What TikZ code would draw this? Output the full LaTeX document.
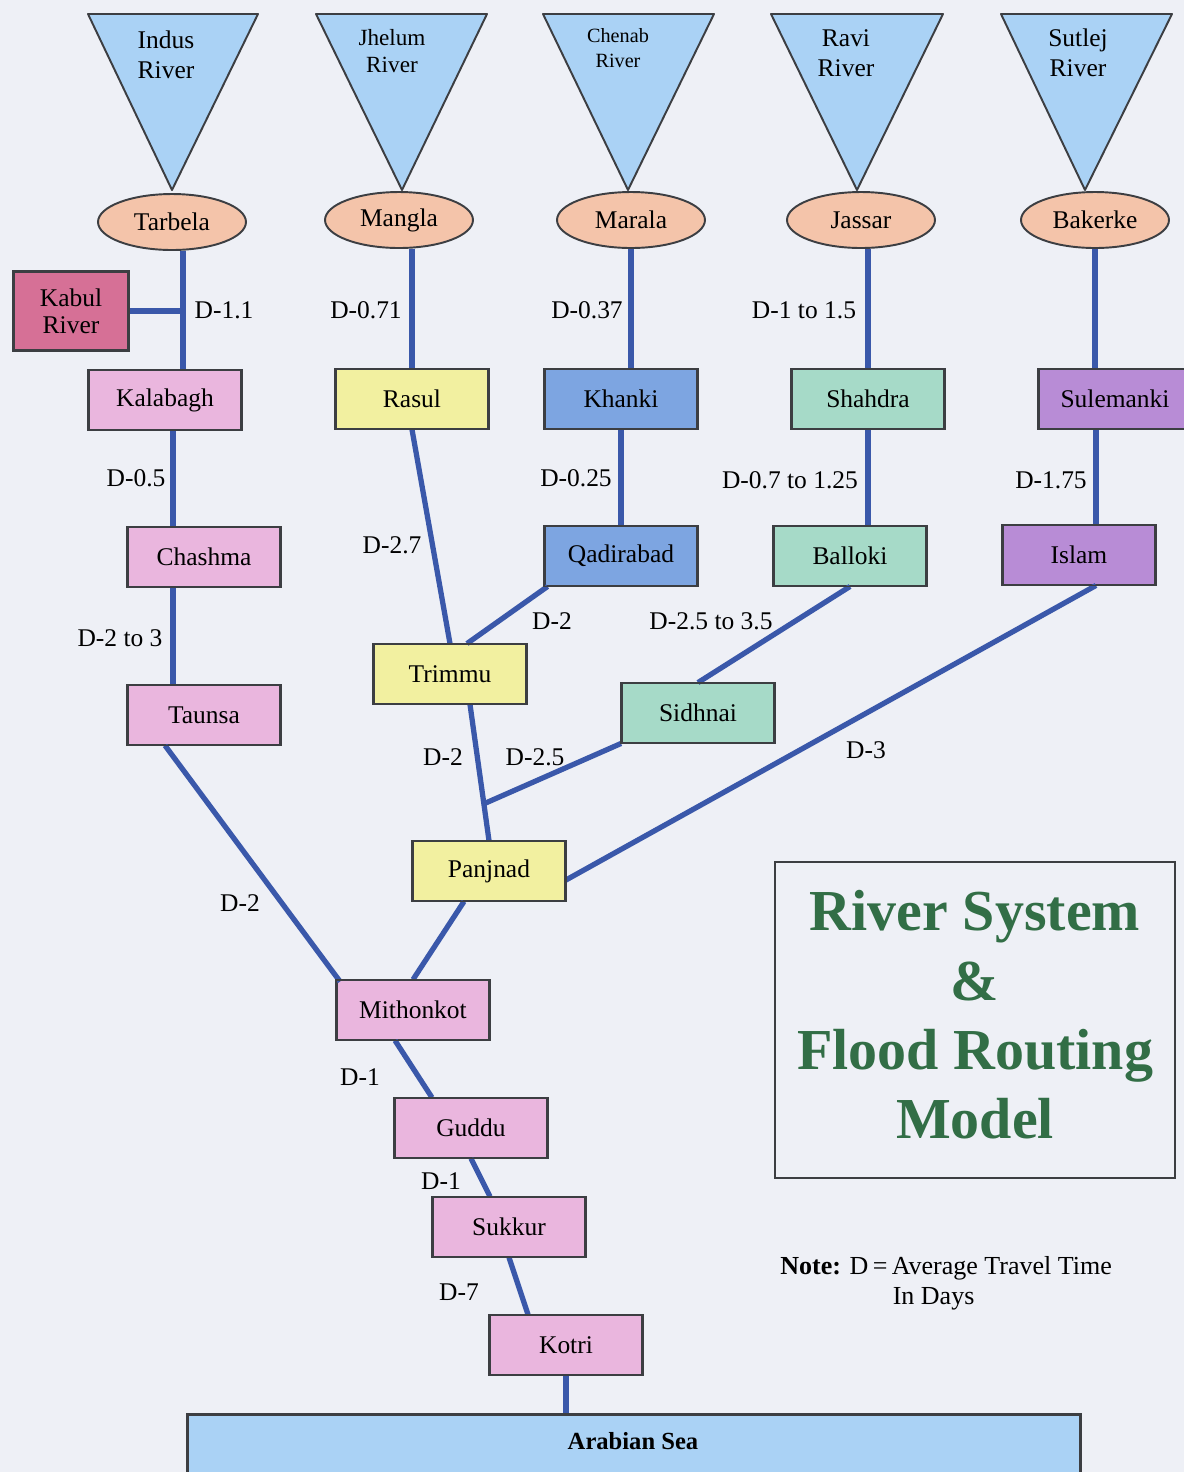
\documentclass[tikz,border=0pt]{standalone}
\usepackage{fontspec}
\setmainfont{Liberation Serif}
\usetikzlibrary{shapes.geometric,calc}
\definecolor{bg}{RGB}{238,240,246}
\definecolor{bord}{RGB}{60,62,66}
\definecolor{skyc}{RGB}{170,210,245}
\definecolor{damc}{RGB}{244,196,170}
\definecolor{kabc}{RGB}{214,112,150}
\definecolor{pinkc}{RGB}{234,182,222}
\definecolor{yelc}{RGB}{242,240,160}
\definecolor{bluec}{RGB}{125,165,225}
\definecolor{tealc}{RGB}{166,218,200}
\definecolor{purc}{RGB}{184,140,214}
\definecolor{riv}{RGB}{58,88,170}
\definecolor{tgreen}{RGB}{50,110,70}
\begin{document}
\begin{tikzpicture}[x=0.02cm,y=-0.02cm,
  txt/.style={font=\fontsize{14.5}{16}\selectfont},
  tri/.style={draw=bord,fill=skyc,line width=1.1pt,line join=round},
  trilab/.style={align=center,inner sep=0,font=\fontsize{14.5}{17}\selectfont},
  dam/.style={ellipse,draw=bord,fill=damc,line width=1.1pt,minimum width=2.96cm,minimum height=1.12cm,inner sep=0,txt},
  stn/.style={draw=bord,line width=1.1pt,minimum width=3.04cm,minimum height=1.18cm,inner sep=0,txt},
  lnk/.style={draw=riv,line width=3pt},
  lab/.style={inner sep=0,txt}]
\useasboundingbox (0,0) rectangle (1184,1472);
\fill[bg] (0,0) rectangle (1184,1472);

% river triangles
\draw[tri] (88,14) -- (258,14) -- (172,190) -- cycle;
\draw[tri] (316,14) -- (487,14) -- (402,190) -- cycle;
\draw[tri] (543,14) -- (714,14) -- (628,190) -- cycle;
\draw[tri] (771,14) -- (943,14) -- (857,190) -- cycle;
\draw[tri] (1001,14) -- (1172,14) -- (1085,190) -- cycle;
\node[trilab] (tIndus) at (166,55) {Indus\\River};
\node[trilab,font=\fontsize{13.2}{15.5}\selectfont] (tJhelum) at (392,51) {Jhelum\\River};
\node[trilab,font=\fontsize{11.5}{14}\selectfont] (tChenab) at (618,48) {Chenab\\River};
\node[trilab] (tRavi) at (846,53) {Ravi\\River};
\node[trilab] (tSutlej) at (1078,53) {Sutlej\\River};

% dams
\node[dam] (tarbela) at (172,222) {Tarbela};
\node[dam] (mangla) at (399,220) {Mangla};
\node[dam] (marala) at (631,220) {Marala};
\node[dam] (jassar) at (861,220) {Jassar};
\node[dam] (bakerke) at (1095,220) {Bakerke};

% stations
\node[stn,fill=kabc,minimum width=2.28cm,minimum height=1.56cm,align=center,font=\fontsize{14.5}{15.5}\selectfont] (kabul) at (71,311) {Kabul\\River};
\node[stn,fill=pinkc] (kalabagh) at (165,400) {Kalabagh};
\node[stn,fill=yelc] (rasul) at (412,399) {Rasul};
\node[stn,fill=bluec] (khanki) at (621,399) {Khanki};
\node[stn,fill=tealc] (shahdra) at (868,399) {Shahdra};
\node[stn,fill=purc] (sulemanki) at (1115,399) {Sulemanki};
\node[stn,fill=pinkc] (chashma) at (204,557) {Chashma};
\node[stn,fill=bluec] (qadirabad) at (621,556) {Qadirabad};
\node[stn,fill=tealc] (balloki) at (850,556) {Balloki};
\node[stn,fill=purc] (islam) at (1079,555) {Islam};
\node[stn,fill=yelc] (trimmu) at (450,674) {Trimmu};
\node[stn,fill=tealc] (sidhnai) at (698,713) {Sidhnai};
\node[stn,fill=pinkc] (taunsa) at (204,715) {Taunsa};
\node[stn,fill=yelc] (panjnad) at (489,871) {Panjnad};
\node[stn,fill=pinkc] (mithonkot) at (413,1010) {Mithonkot};
\node[stn,fill=pinkc] (guddu) at (471,1128) {Guddu};
\node[stn,fill=pinkc] (sukkur) at (509,1227) {Sukkur};
\node[stn,fill=pinkc] (kotri) at (566,1345) {Kotri};
\node[stn,fill=skyc,minimum width=17.84cm,minimum height=1.8cm,anchor=north] (sea) at (634,1414) {};
\node[lab,font=\fontsize{14}{16}\selectfont\bfseries] (seatext) at (633,1441) {Arabian Sea};

% helper coordinates
\coordinate (kj) at (183,311);
\coordinate (cIndus) at (173,0);
\coordinate (jn) at ($($(trimmu.south)+(20,0)$)!0.73!(panjnad.north)$);

% connectors
\draw[lnk] (tarbela.south -| kj) -- (kalabagh.north -| kj);
\draw[lnk] (kabul.east) -- (kj);
\draw[lnk] (mangla.south -| rasul.north) -- (rasul.north);
\draw[lnk] (marala.south) -- (marala.south |- khanki.north);
\draw[lnk] (jassar.south -| shahdra.north) -- (shahdra.north);
\draw[lnk] (bakerke.south) -- (bakerke.south |- sulemanki.north);
\draw[lnk] (kalabagh.south -| cIndus) -- (chashma.north -| cIndus);
\draw[lnk] (chashma.south -| cIndus) -- (taunsa.north -| cIndus);
\draw[lnk] (khanki.south) -- (qadirabad.north);
\draw[lnk] (shahdra.south) -- (shahdra.south |- balloki.north);
\draw[lnk] ($(islam.north)+(17,0)$) -- (sulemanki.south -| {$(islam.north)+(17,0)$});
\draw[lnk] (rasul.south) -- (trimmu.north);
\draw[lnk] ([xshift=2pt]qadirabad.south west) -- ($(trimmu.north)+(17,0)$);
\draw[lnk] ($(trimmu.south)+(20,0)$) -- (panjnad.north);
\draw[lnk] (sidhnai.south west) -- (jn);
\draw[lnk] (balloki.south) -- (sidhnai.north);
\draw[lnk] ($(islam.south)+(17,0)$) -- ($(panjnad.east)+(0,9)$);
\draw[lnk] ($(taunsa.south)+(-39,0)$) -- ($(mithonkot.north west)+(4,2)$);
\draw[lnk] ($(panjnad.south)+(-25,0)$) -- (mithonkot.north);
\draw[lnk] ($(mithonkot.south)+(-18,0)$) -- ($(guddu.north)+(-39,0)$);
\draw[lnk] (guddu.south) -- ($(sukkur.north)+(-19,0)$);
\draw[lnk] (sukkur.south) -- ($(kotri.north)+(-38,0)$);
\draw[lnk] (kotri.south) -- (kotri.south |- sea.north);

% redraw node borders over connectors
\foreach \n in {kalabagh,rasul,khanki,shahdra,sulemanki,chashma,qadirabad,balloki,islam,trimmu,sidhnai,taunsa,panjnad,mithonkot,guddu,sukkur,kotri,sea,kabul}
  \draw[bord,line width=1.1pt] (\n.south west) rectangle (\n.north east);

% travel-time labels
\node[lab] (l1) at (224,310) {D-1.1};
\node[lab] (l2) at (366,310) {D-0.71};
\node[lab] (l3) at (587,310) {D-0.37};
\node[lab] (l4) at (804,310) {D-1 to 1.5};
\node[lab] (l5) at (136,478) {D-0.5};
\node[lab] (l6) at (576,478) {D-0.25};
\node[lab] (l7) at (790,480) {D-0.7 to 1.25};
\node[lab] (l8) at (1051,480) {D-1.75};
\node[lab] (l9) at (392,545) {D-2.7};
\node[lab] (l10) at (120,638) {D-2 to 3};
\node[lab] (l11) at (552,621) {D-2};
\node[lab] (l12) at (711,621) {D-2.5 to 3.5};
\node[lab] (l13) at (443,757) {D-2};
\node[lab] (l14) at (535,757) {D-2.5};
\node[lab] (l15) at (866,750) {D-3};
\node[lab] (l16) at (240,903) {D-2};
\node[lab] (l17) at (360,1077) {D-1};
\node[lab] (l18) at (441,1181) {D-1};
\node[lab] (l19) at (459,1292) {D-7};

% title
\node[draw=bord,line width=1.1pt,minimum width=8cm,minimum height=6.32cm,align=center,
  text=tgreen,font=\fontsize{33}{39.5}\selectfont\bfseries] (title) at (975,1020) {};
\node[align=center,inner sep=0,text=tgreen,font=\fontsize{33}{39.5}\selectfont\bfseries] (titletext) at (975,1015)
  {River System\\\&\\Flood Routing\\Model};

% note
\node[anchor=north west,align=left,inner sep=0,font=\fontsize{14.8}{17}\selectfont] (note) at (780,1256)
  {\textbf{Note:} D\,=\,Average Travel Time\\\hspace*{64pt}In Days};
\end{tikzpicture}
\end{document}
